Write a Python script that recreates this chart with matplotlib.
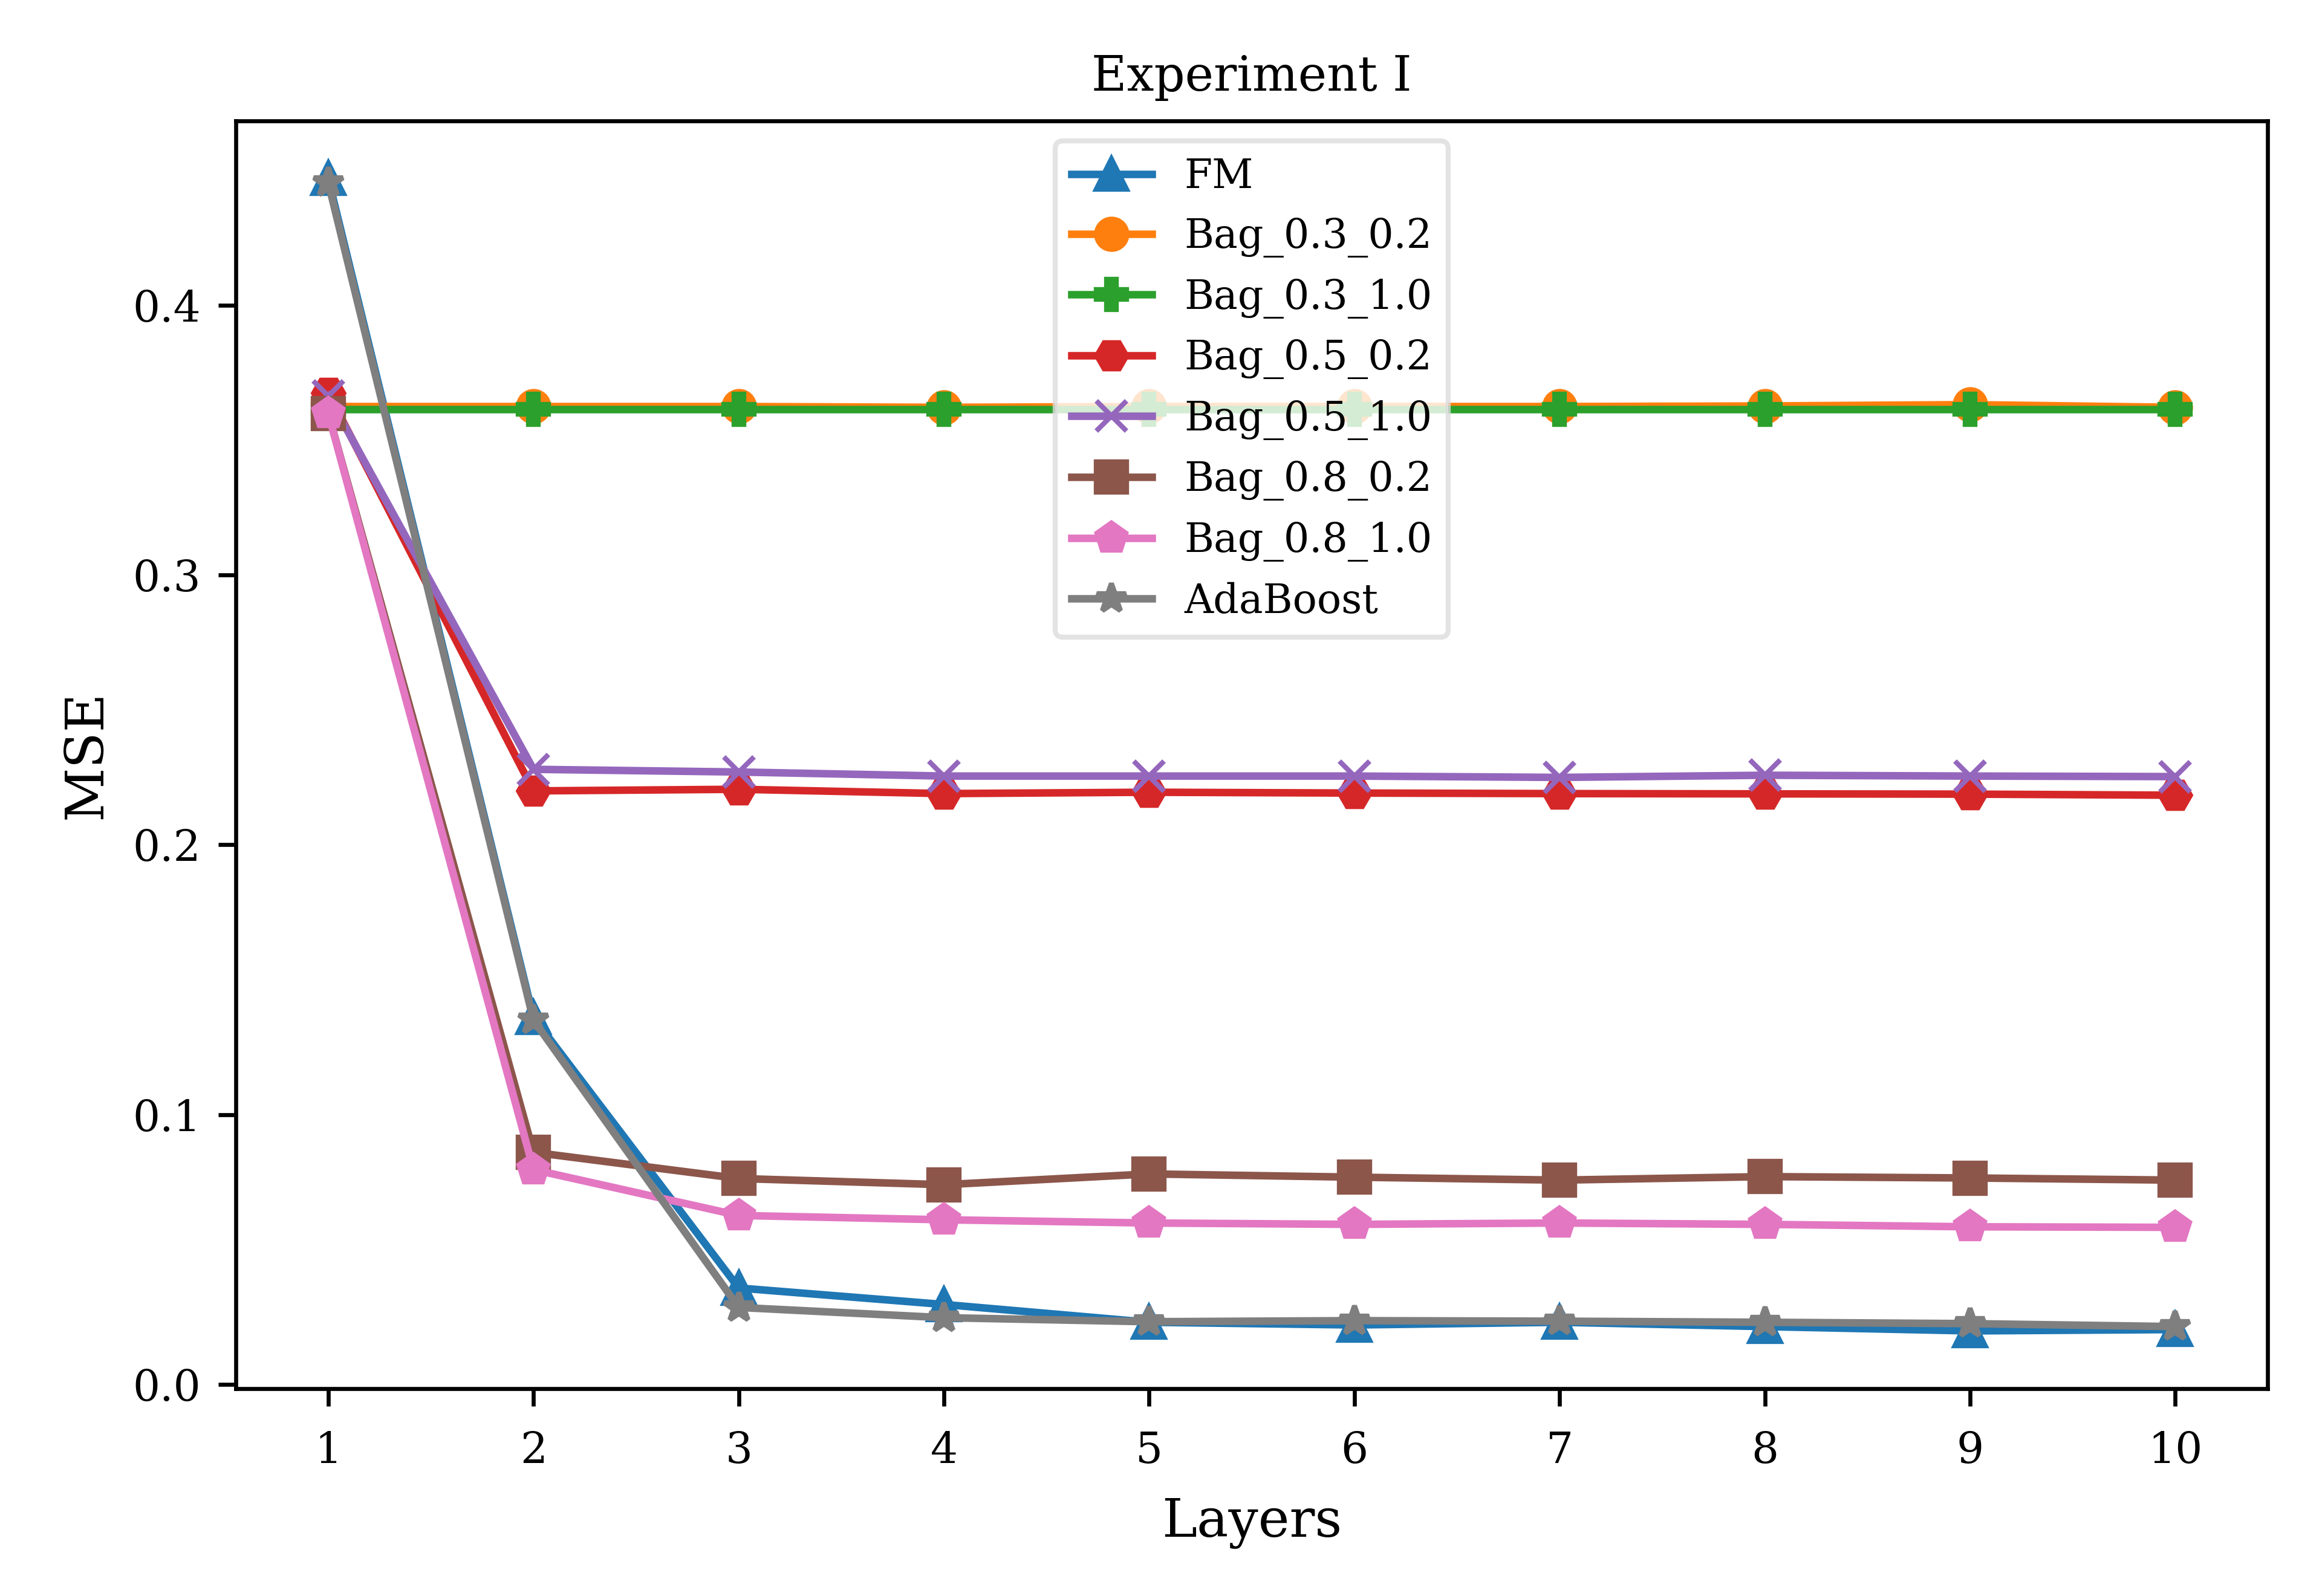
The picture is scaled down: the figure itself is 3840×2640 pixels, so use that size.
import numpy as np
import matplotlib.pyplot as plt

plt.rcParams["font.family"] = "DejaVu Serif"

layers = list(range(1, 11))

fm = [0.447, 0.136, 0.0357, 0.0296, 0.0230, 0.0220, 0.0230, 0.0214, 0.0198, 0.0203]
bag_03_02 = [0.3625, 0.3625, 0.3625, 0.3622, 0.3625, 0.3625, 0.3625, 0.3627, 0.3632, 0.3622]
bag_03_10 = [0.3615, 0.3615, 0.3615, 0.3615, 0.3615, 0.3615, 0.3615, 0.3615, 0.3615, 0.3615]
bag_05_02 = [0.3676, 0.2200, 0.2206, 0.2190, 0.2195, 0.2192, 0.2190, 0.2189, 0.2188, 0.2184]
bag_05_10 = [0.3665, 0.2280, 0.2270, 0.2255, 0.2255, 0.2255, 0.2250, 0.2258, 0.2255, 0.2253]
bag_08_02 = [0.3600, 0.0860, 0.0763, 0.0740, 0.0780, 0.0768, 0.0757, 0.0770, 0.0765, 0.0757]
bag_08_10 = [0.3600, 0.0796, 0.0626, 0.0610, 0.0598, 0.0593, 0.0598, 0.0593, 0.0584, 0.0582]
adaboost = [0.4455, 0.1350, 0.0285, 0.0247, 0.0232, 0.0236, 0.0234, 0.0230, 0.0225, 0.0214]

series = [
    ("FM", fm, "^"),
    ("Bag_0.3_0.2", bag_03_02, "o"),
    ("Bag_0.3_1.0", bag_03_10, "P"),
    ("Bag_0.5_0.2", bag_05_02, "H"),
    ("Bag_0.5_1.0", bag_05_10, "x"),
    ("Bag_0.8_0.2", bag_08_02, "s"),
    ("Bag_0.8_1.0", bag_08_10, "p"),
    ("AdaBoost", adaboost, "*"),
]

fig, ax = plt.subplots(figsize=(6.4, 4.4))
fig.subplots_adjust(left=0.1016, right=0.9766, bottom=0.130, top=0.9242)

for name, vals, mk in series:
    ax.plot(layers, vals, marker=mk, label=name)

ax.set_xticks(layers)
ax.tick_params(labelsize=8.5)
ax.tick_params(axis="x", pad=4.8)
ax.set_title("Experiment I", fontsize=9.6)
ax.set_xlabel("Layers", fontsize=10.5, labelpad=5)
ax.set_ylabel("MSE", fontsize=10.5)
leg = ax.legend(loc="upper center", fontsize=8)
leg.get_frame().set_edgecolor("#dddddd")

fig.savefig("out.png", dpi=600)
